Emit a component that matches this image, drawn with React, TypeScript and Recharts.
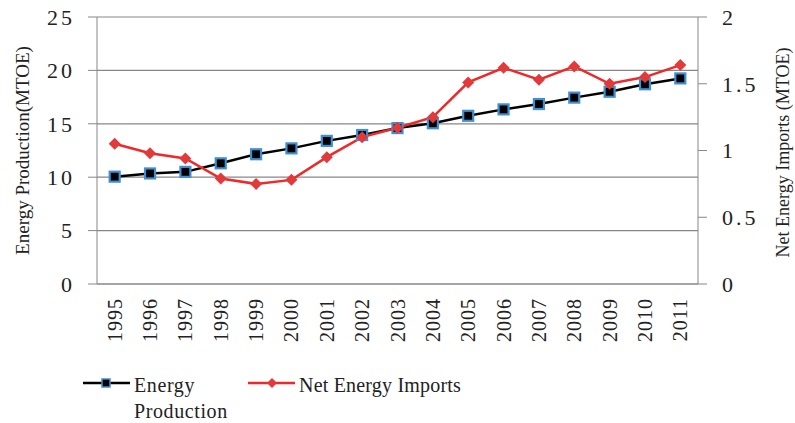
import { LineChart, Line, XAxis, YAxis, CartesianGrid, Legend } from 'recharts'

const years = ['1995', '1996', '1997', '1998', '1999', '2000', '2001', '2002', '2003', '2004', '2005', '2006', '2007', '2008', '2009', '2010', '2011']
const energyProduction = [10.05, 10.35, 10.5, 11.3, 12.15, 12.7, 13.4, 13.95, 14.6, 15.05, 15.75, 16.35, 16.85, 17.45, 18.0, 18.7, 19.25]
const netEnergyImports = [1.05, 0.98, 0.94, 0.79, 0.75, 0.78, 0.95, 1.1, 1.17, 1.25, 1.51, 1.62, 1.53, 1.63, 1.5, 1.55, 1.64]
const leftTicks = [0, 5, 10, 15, 20, 25]
const rightTicks = [0, 0.5, 1, 1.5, 2]

const data = years.map((year, i) => ({
  year,
  production: energyProduction[i],
  imports: netEnergyImports[i],
}))

const FONT = '"Liberation Serif", "Times New Roman", serif'
const GRID = '#878787'
const BLUE = '#3f8fd2'
const RED = '#f02828'

function SquareDot(props: any) {
  const { cx, cy, index } = props
  if (cx == null || cy == null) return null
  return <rect key={'sq' + index} x={cx - 5} y={cy - 5} width={10} height={10} fill="#000" stroke={BLUE} strokeWidth={2.2} />
}

function DiamondDot(props: any) {
  const { cx, cy, index } = props
  if (cx == null || cy == null) return null
  return (
    <path
      key={'dm' + index}
      d={`M${cx},${cy - 6} L${cx + 6},${cy} L${cx},${cy + 6} L${cx - 6},${cy} Z`}
      fill="#e23a3a"
    />
  )
}

function YearTick(props: any) {
  const { x, y, payload } = props
  return (
    <g transform={`translate(${x},${y})`}>
      <text
        transform="rotate(-90)"
        x={-14}
        dy="0.35em"
        textAnchor="end"
        fontFamily={FONT}
        fontSize={20}
        letterSpacing={1}
        fill="#222"
      >
        {payload.value}
      </text>
    </g>
  )
}

function LegendBox() {
  return (
    <svg width={795} height={79} style={{ display: 'block' }}>
      <line x1={83} y1={39} x2={130} y2={39} stroke="#000" strokeWidth={2.5} />
      <rect x={102} y={35} width={8} height={8} fill="#000" stroke={BLUE} strokeWidth={1.5} />
      <text x={134} y={48} fontFamily={FONT} fontSize={20} letterSpacing={0.6} fill="#222">Energy</text>
      <text x={134} y={74} fontFamily={FONT} fontSize={20} letterSpacing={0.6} fill="#222">Production</text>
      <line x1={248} y1={39} x2={295} y2={39} stroke={RED} strokeWidth={2.5} />
      <path d="M272,34 L277,39 L272,44 L267,39 Z" fill="#e23a3a" />
      <text x={299} y={48} fontFamily={FONT} fontSize={20} letterSpacing={0.2} fill="#222">Net Energy Imports</text>
    </svg>
  )
}

export default function App() {
  return (
    <div style={{ width: 795, height: 423, background: '#fff' }}>
      <style>{'body{margin:0}'}</style>
      <LineChart width={795} height={423} data={data} margin={{ top: 17, right: 0, bottom: 0, left: 0 }}>
        <CartesianGrid yAxisId="left" vertical={false} stroke={GRID} strokeWidth={1.2} />
        <XAxis
          dataKey="year"
          scale="band"
          height={60}
          stroke={GRID}
          tickLine={false}
          tickSize={0}
          tickMargin={0}
          interval={0}
          tick={<YearTick />}
        />
        <YAxis
          yAxisId="left"
          width={97}
          domain={[0, 25]}
          ticks={leftTicks}
          stroke={GRID}
          tickSize={9}
          tickMargin={13}
          tick={{ fontFamily: FONT, fontSize: 22, fill: '#222', letterSpacing: 3 }}
          label={{
            content: ({ viewBox }: any) => (
              <text
                transform={`translate(${viewBox.x + 22},${viewBox.y + viewBox.height / 2}) rotate(-90)`}
                textAnchor="middle"
                dy="0.35em"
                fontFamily={FONT}
                fontSize={19}
                fill="#222"
              >
                Energy Production(MTOE)
              </text>
            ),
          }}
        />
        <YAxis
          yAxisId="right"
          orientation="right"
          width={97}
          domain={[0, 2]}
          ticks={rightTicks}
          stroke={GRID}
          tickSize={9}
          tickMargin={15}
          tick={{ fontFamily: FONT, fontSize: 22, fill: '#222', letterSpacing: 3 }}
          label={{
            content: ({ viewBox }: any) => (
              <text
                transform={`translate(${viewBox.x + 85},${viewBox.y + viewBox.height / 2 + 2}) rotate(-90)`}
                textAnchor="middle"
                dy="0.35em"
                fontFamily={FONT}
                fontSize={18}
                fill="#222"
              >
                Net Energy Imports (MTOE)
              </text>
            ),
          }}
        />
        <Legend verticalAlign="bottom" height={79} content={() => <LegendBox />} />
        <Line
          yAxisId="left"
          type="linear"
          dataKey="production"
          name="Energy Production"
          stroke="#000"
          strokeWidth={2.5}
          dot={SquareDot}
          activeDot={false}
          isAnimationActive={false}
        />
        <Line
          yAxisId="right"
          type="linear"
          dataKey="imports"
          name="Net Energy Imports"
          stroke={RED}
          strokeWidth={2.5}
          dot={DiamondDot}
          activeDot={false}
          isAnimationActive={false}
        />
      </LineChart>
    </div>
  )
}
